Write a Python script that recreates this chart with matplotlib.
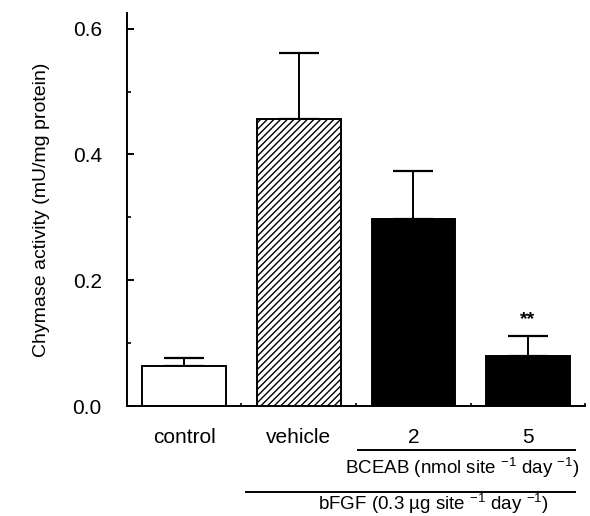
import numpy as np
import matplotlib
matplotlib.use("Agg")
import matplotlib.pyplot as plt
import matplotlib.transforms as mtransforms

plt.rcParams['font.family'] = ['Liberation Sans', 'DejaVu Sans']
plt.rcParams['mathtext.fontset'] = 'custom'
plt.rcParams['mathtext.rm'] = 'Liberation Sans'
plt.rcParams['axes.unicode_minus'] = False

groups = ['control', 'vehicle', '2', '5']
activity = [0.063, 0.457, 0.297, 0.079]
sem = [0.013, 0.104, 0.076, 0.032]
colors = ['white', 'white', 'black', 'black']
hatches = ['', '/////', '', '']

fig = plt.figure(figsize=(5.9, 5.16), dpi=100)
ax = fig.add_axes([0.215, 0.213, 0.777, 0.762])

x = np.arange(len(groups)) + 0.5
ax.bar(x, activity, width=0.73, color=colors, edgecolor='black',
       linewidth=1.4, hatch=hatches, zorder=2)
ax.errorbar(x, activity, yerr=[np.zeros(len(sem)), sem], fmt='none',
            ecolor='black', elinewidth=1.4, capsize=14.4, capthick=1.6, zorder=1)

ax.text(x[3], 0.138, '**', ha='center', va='center', fontsize=14, fontweight='bold')

ax.set_xlim(0, 4)
ax.set_ylim(0, 0.625)
ax.set_yticks([0.0, 0.2, 0.4, 0.6])
ax.set_yticklabels(['0.0', '0.2', '0.4', '0.6'], fontsize=15)
ax.set_yticks([0.1, 0.3, 0.5], minor=True)
ax.tick_params(axis='y', which='major', direction='in', length=5, width=1.4, pad=18)
ax.tick_params(axis='y', which='minor', direction='in', length=3, width=1.2)
ax.set_xticks(x)
ax.set_xticklabels(groups, fontsize=15)
ax.set_xticks([1, 2, 3, 4], minor=True)
ax.tick_params(axis='x', which='major', length=0, pad=16)
ax.tick_params(axis='x', which='minor', direction='in', length=2, width=1.2)

for s in ['top', 'right']:
    ax.spines[s].set_visible(False)
for s in ['left', 'bottom']:
    ax.spines[s].set_linewidth(1.4)

ax.set_ylabel('Chymase activity (mU/mg protein)', fontsize=14, labelpad=16)

trans = mtransforms.blended_transform_factory(ax.transData, ax.transAxes)
ax.plot([2.02, 3.91], [-0.112, -0.112], color='black', lw=1.4,
        transform=trans, clip_on=False)
ax.text(2.93, -0.157, r'BCEAB (nmol site $^{\mathregular{-1}}$ day $^{\mathregular{-1}}$)',
        transform=trans, ha='center', va='center', fontsize=13.5)
ax.plot([1.04, 3.91], [-0.219, -0.219], color='black', lw=1.4,
        transform=trans, clip_on=False)
ax.text(2.67, -0.247, r'bFGF (0.3 µg site $^{\mathregular{-1}}$ day $^{\mathregular{-1}}$)',
        transform=trans, ha='center', va='center', fontsize=13.5)

fig.savefig('out.png', dpi=100)
